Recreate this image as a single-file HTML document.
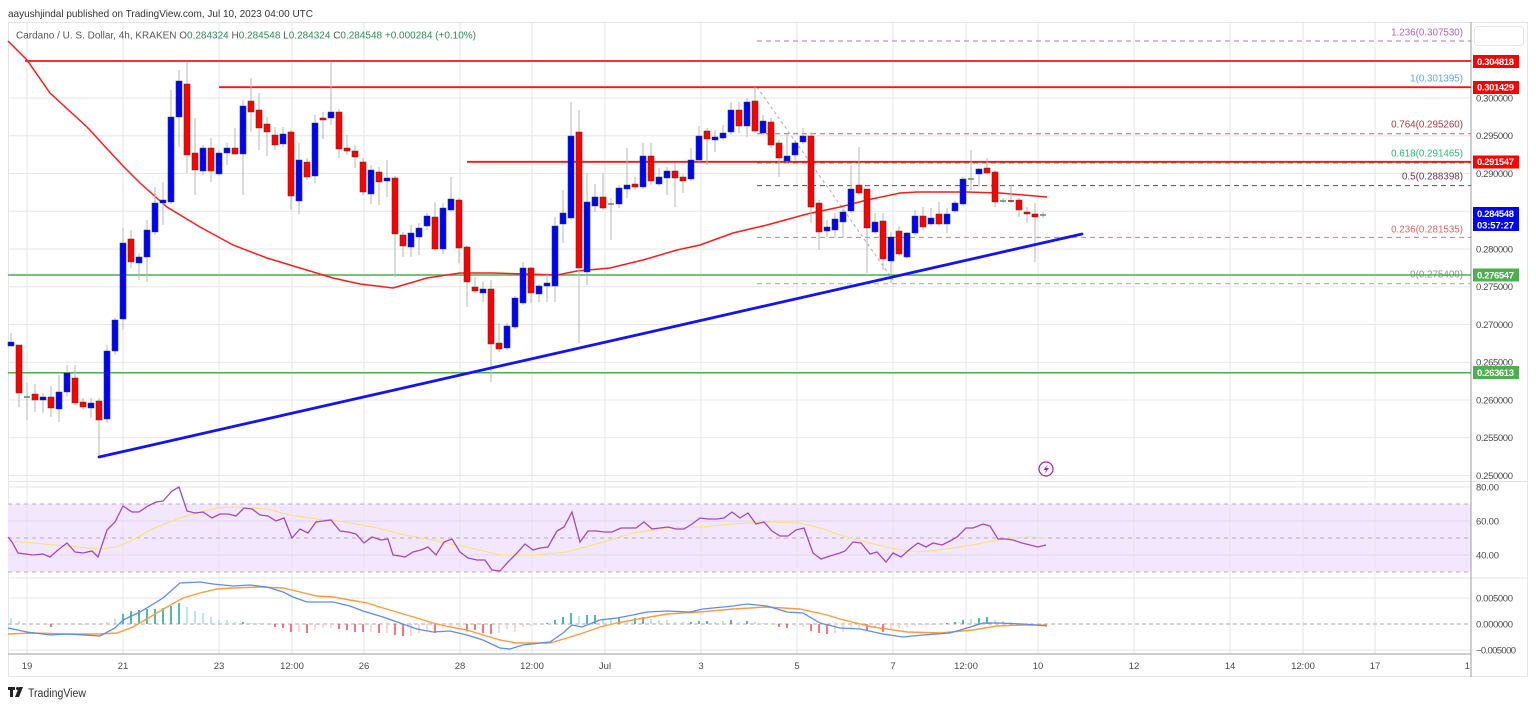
<!DOCTYPE html>
<html><head><meta charset="utf-8"><style>
html,body{margin:0;padding:0;background:#fff;width:1536px;height:707px;overflow:hidden}
svg{display:block;font-family:"Liberation Sans",Arial,sans-serif}
</style></head><body>
<svg width="1536" height="707" viewBox="0 0 1536 707" xmlns="http://www.w3.org/2000/svg">
<rect width="1536" height="707" fill="#fff"/>
<text x="8" y="17" font-size="10.5" fill="#333" textLength="305" lengthAdjust="spacingAndGlyphs">aayushjindal published on TradingView.com, Jul 10, 2023 04:00 UTC</text>
<rect x="8.5" y="22.5" width="1519" height="654" fill="none" stroke="#e3e5ea"/>
<!-- RSI band -->
<rect x="8" y="504" width="1463" height="68" fill="#f3e7fd"/>
<!-- grid -->
<g stroke="#e6e6e6" stroke-width="1">
<path d="M8 98H1471M8 135.75H1471M8 173.5H1471M8 211.25H1471M8 249H1471M8 286.75H1471M8 324.5H1471M8 362.25H1471M8 400H1471M8 437.75H1471M8 475.5H1471M8 487H1471M8 598H1471M8 650H1471"/>
<path d="M27 22V654M123 22V654M219 22V654M292 22V654M364 22V654M460 22V654M532 22V654M605 22V654M701 22V654M797 22V654M893 22V654M966 22V654M1038 22V654M1134 22V654M1230 22V654M1303 22V654M1375 22V654"/>
</g>
<path d="M8 521H1471M8 555H1471" stroke="#e2d6ee"/>
<path d="M8 481.5H1528M8 578H1528" stroke="#e0e3eb"/>
<path d="M8 504H1471M8 538H1471M8 572H1471" stroke="#b6afbf" stroke-dasharray="4,4"/>
<path d="M8 624H1471" stroke="#a9a9a9" stroke-dasharray="4,3"/>
<path d="M8 654H1471" stroke="#9a9ca3"/>
<path d="M1471 22V677" stroke="#9a9ca3"/>

<!-- legend -->
<text x="16" y="38.5" font-size="10" fill="#555" textLength="460" lengthAdjust="spacingAndGlyphs">Cardano / U. S. Dollar, 4h, KRAKEN  <tspan fill="#555">O</tspan><tspan fill="#2e8b57">0.284324</tspan>  <tspan fill="#555">H</tspan><tspan fill="#2e8b57">0.284548</tspan>  <tspan fill="#555">L</tspan><tspan fill="#2e8b57">0.284324</tspan>  <tspan fill="#555">C</tspan><tspan fill="#2e8b57">0.284548</tspan>  <tspan fill="#2e8b57">+0.000284 (+0.10%)</tspan></text>

<!-- fib dashed levels -->
<g stroke-width="1" stroke-dasharray="5,4" fill="none">
<path d="M757 41H1471" stroke="#b66ad8"/>
<path d="M757 87.5H1471" stroke="#64b5f6"/>
<path d="M757 133.8H1471" stroke="#e0535b"/>
<path d="M757 163H1471" stroke="#2fb36a"/>
<path d="M757 185.6H1471" stroke="#7a3d5e"/>
<path d="M757 237.4H1471" stroke="#ee6e73"/>
<path d="M757 283.7H1471" stroke="#a8a8a8"/>
</g>
<path d="M757 87L893 280" stroke="#aaa" stroke-dasharray="3,3" fill="none"/>
<g font-size="9.8" text-anchor="end">
<text x="1463" y="35.5" fill="#b15ccf">1.236(0.307530)</text>
<text x="1463" y="81.5" fill="#5aa8dc">1(0.301395)</text>
<text x="1463" y="127.5" fill="#b8323f">0.764(0.295260)</text>
<text x="1463" y="156.5" fill="#27b776">0.618(0.291465)</text>
<text x="1463" y="179.5" fill="#6e3656">0.5(0.288398)</text>
<text x="1463" y="232.5" fill="#e26468">0.236(0.281535)</text>
<text x="1463" y="277.5" fill="#8c8c8c">0(0.275400)</text>
</g>

<!-- horizontal levels -->
<path d="M25 61H1471M219 87.2H1471M467 161.8H1471" stroke="#ff1010" stroke-width="1.8" fill="none"/>
<path d="M8 275H1471M8 372.7H1471" stroke="#4caf50" stroke-width="1.5" fill="none"/>

<!-- EMA -->
<polyline fill="none" stroke="#ff1a1a" stroke-width="1.5" points="8,41 27,60 50,93 87,127 123,166 140,183 167,207 200,227 233,245 267,258 300,268 333,278 360,284 393,288 427,278 460,273 493,273 527,274 557,275 577,271 610,268 643,260 677,250 700,245 733,233 767,225 807,214 840,207 867,200 900,193 917,192 967,192 1000,193 1047,197"/>

<!-- wicks -->
<path fill="none" stroke="#b5b5b5" stroke-width="1" d="M11 333V347M19 345V407M27 383V420M35 384V412M43 393V413M51 386V417M59 375V422M67 365V397M75 365V405M83 398V410M91 398V418M99 398V457M107 345V423M115 318V355M123 228V330M131 230V268M139 253V280M147 220V282M155 187V235M163 182V225M171 90V204M179 70V147M187 62V173M195 118V195M203 145V175M211 138V182M219 150V176M227 143V165M235 128V155M243 100V195M251 78V132M259 93V150M267 117V156M275 127V150M283 127V147M291 130V210M299 143V214M307 158V180M315 115V183M323 112V139M331 62V125M339 109V158M347 135V155M355 145V168M363 158V195M371 165V204M379 167V205M387 160V197M395 176V277M403 232V257M411 225V257M419 223V255M427 213V230M435 202V250M443 203V254M451 177V212M459 198V263M467 245V307M475 277V293M483 282V302M491 280V382M499 323V352M507 323V350M515 296V329M523 262V305M531 267V303M539 284V302M547 273V302M555 217V302M563 190V243M571 102V220M579 110V343M587 173V285M595 184V212M603 173V210M611 198V240M619 185V208M627 148V198M635 177V190M643 143V189M651 143V185M659 168V186M667 167V195M675 163V207M683 174V193M691 148V181M699 126V162M707 128V165M715 130V152M723 125V140M731 102V135M739 102V133M747 98V137M755 87V133M763 115V135M771 118V148M779 140V177M787 133V163M795 140V160M803 128V144M811 132V223M819 200V250M827 220V237M835 213V238M843 208V238M851 165V213M859 147V195M867 189V273M875 213V234M883 213V270M891 232V283M899 226V256M907 232V258M915 210V235M923 207V230M931 208V226M939 202V226M947 208V233M955 201V213M963 177V206M971 150V190M979 168V187M987 158V175M995 170V207M1003 198V203M1011 185V203M1019 198V217M1027 207V223M1035 203V262M1043 212V218"/>

<!-- blue bodies -->
<path fill="#0000ff" stroke="#2d4a35" stroke-width="0.6" d="M8 342h6v4h-6zM40 397h6v3h-6zM56 392h6v17h-6zM64 373h6v19h-6zM88 403h6v5h-6zM104 351h6v68h-6zM112 320h6v31h-6zM120 243h6v76h-6zM136 257h6v6h-6zM144 230h6v27h-6zM152 203h6v29h-6zM160 200h6v3h-6zM168 117h6v85h-6zM176 81h6v36h-6zM200 148h6v23h-6zM216 153h6v21h-6zM224 148h6v5h-6zM240 106h6v48h-6zM280 134h6v10h-6zM296 160h6v41h-6zM312 123h6v53h-6zM328 112h6v6h-6zM368 170h6v24h-6zM384 178h6v3h-6zM408 233h6v14h-6zM416 228h6v9h-6zM424 216h6v10h-6zM440 208h6v41h-6zM448 199h6v11h-6zM480 289h6v4h-6zM504 326h6v22h-6zM512 298h6v29h-6zM520 268h6v35h-6zM536 286h6v8h-6zM544 283h6v3h-6zM552 226h6v60h-6zM560 213h6v11h-6zM568 136h6v82h-6zM584 202h6v70h-6zM592 197h6v9h-6zM616 188h6v16h-6zM624 185h6v4h-6zM640 156h6v31h-6zM656 177h6v7h-6zM664 171h6v7h-6zM688 160h6v19h-6zM696 136h6v24h-6zM712 137h6v3h-6zM720 133h6v5h-6zM728 110h6v22h-6zM744 102h6v24h-6zM760 121h6v12h-6zM784 156h6v5h-6zM792 143h6v12h-6zM800 136h6v6h-6zM824 227h6v4h-6zM832 219h6v11h-6zM840 212h6v10h-6zM848 189h6v22h-6zM872 222h6v10h-6zM888 237h6v24h-6zM904 233h6v24h-6zM912 216h6v17h-6zM928 218h6v6h-6zM944 214h6v10h-6zM952 203h6v8h-6zM960 179h6v25h-6zM976 169h6v5h-6z"/>
<!-- red bodies -->
<path fill="#ff0000" stroke="#4a3a2a" stroke-width="0.6" d="M16 345h6v48h-6zM32 394h6v6h-6zM48 397h6v11h-6zM72 378h6v25h-6zM80 402h6v5h-6zM96 401h6v19h-6zM128 239h6v23h-6zM184 84h6v71h-6zM192 153h6v17h-6zM208 148h6v23h-6zM232 148h6v6h-6zM248 101h6v11h-6zM256 110h6v18h-6zM264 124h6v8h-6zM272 135h6v10h-6zM288 132h6v64h-6zM304 162h6v15h-6zM320 118h6v2h-6zM336 112h6v37h-6zM344 148h6v3h-6zM352 151h6v6h-6zM360 162h6v30h-6zM376 172h6v10h-6zM392 178h6v56h-6zM400 235h6v11h-6zM432 217h6v32h-6zM456 200h6v48h-6zM464 247h6v35h-6zM472 287h6v4h-6zM488 289h6v55h-6zM496 343h6v6h-6zM528 268h6v25h-6zM576 132h6v136h-6zM600 197h6v11h-6zM632 184h6v3h-6zM648 156h6v25h-6zM672 171h6v7h-6zM680 177h6v4h-6zM704 131h6v8h-6zM736 110h6v16h-6zM752 101h6v30h-6zM768 122h6v23h-6zM776 143h6v15h-6zM808 136h6v71h-6zM816 203h6v29h-6zM856 185h6v8h-6zM864 189h6v39h-6zM880 221h6v38h-6zM896 231h6v23h-6zM920 216h6v11h-6zM936 214h6v10h-6zM984 168h6v5h-6zM992 172h6v30h-6zM1016 200h6v10h-6zM1024 212h6v2h-6zM1032 214h6v3h-6z"/>
<!-- dojis -->
<path stroke-width="1.6" fill="none" stroke="#5d8a6a" d="M24 397h6M608 204h6M968 179h6M1000 201h6M1040 215h6"/>
<path stroke-width="1.6" fill="none" stroke="#8a2a2a" d="M1008 201h6"/>

<!-- trend line -->
<path d="M99 457L1082 234" stroke="#1414f0" stroke-width="2.8" fill="none" stroke-linecap="round"/>

<!-- lightning icon -->
<circle cx="1046" cy="469" r="7" fill="#fff" stroke="#9c27b0" stroke-width="1.2"/>
<path d="M1048 464L1043.5 470H1046.5L1044 474.5L1049 468H1046Z" fill="#9c27b0"/>

<!-- RSI -->
<polyline fill="none" stroke="#fbe26a" stroke-width="1.1" points="8,541 33,543 67,546 100,549 117,547 133,540 150,530 177,519 200,512 217,508 233,507 267,509 290,515 317,519 333,520 350,523 377,528 400,534 433,540 450,544 467,547 500,555 533,555 567,552 600,543 633,533 667,528 700,527 733,524 767,522 800,523 820,528 840,535 857,540 890,548 918,552 940,550 973,545 997,540 1013,538 1027,537 1046,538"/>
<polyline fill="none" stroke="#a447c0" stroke-width="1.3" points="8,537 12,542 18,553 33,555 43,554 50,557 58,550 67,543 75,552 83,553 92,551 98,557 107,530 115,522 123,506 132,512 139,512 148,506 156,502 163,501 172,491 179,487 187,511 195,513 203,512 212,518 220,514 228,514 236,516 244,508 252,509 260,515 268,516 276,521 284,518 292,538 300,529 308,533 316,522 323,521 331,520 340,531 348,532 356,534 364,543 372,537 381,540 388,539 393,555 400,556 405,557 413,552 421,550 428,547 436,555 444,542 452,539 460,552 468,558 477,560 485,560 492,570 500,571 508,562 517,553 525,544 533,550 540,548 548,547 557,531 564,527 572,512 580,542 588,531 597,531 604,532 612,532 621,528 628,528 636,528 644,522 652,529 660,528 668,527 676,529 684,529 692,524 700,518 708,519 717,519 724,518 732,512 740,518 748,513 756,524 764,522 772,531 780,536 788,536 796,530 804,528 813,553 821,559 830,556 840,553 845,551 853,542 861,543 870,554 877,552 886,562 893,553 901,557 910,549 918,543 926,547 933,543 942,545 950,541 957,537 966,528 973,528 983,524 990,526 998,539 1006,539 1013,540 1022,543 1030,545 1038,547 1046,545"/>

<!-- MACD histogram -->
<path fill="none" stroke-width="1.6" stroke="#22ab94" d="M123 624V614M131 624V611M139 624V610M147 624V609M155 624V609M163 624V608M171 624V606M179 624V603M243 624V622M547 624V623M555 624V620M563 624V617M571 624V613M587 624V615M595 624V615M619 624V618M635 624V618M643 624V617M691 624V622M699 624V621M707 624V621M731 624V620M747 624V621M947 624V623M955 624V622M963 624V620M979 624V618M987 624V617"/>
<path fill="none" stroke-width="1.6" stroke="#acdfd6" d="M11 624V618M19 624V621M107 624V622M115 624V619M187 624V607M195 624V611M203 624V613M211 624V617M219 624V620M227 624V620M235 624V622M251 624V623M259 624V623M579 624V616M603 624V618M611 624V619M627 624V621M651 624V619M659 624V620M667 624V620M675 624V622M683 624V622M715 624V622M723 624V621M739 624V622M755 624V622M763 624V623M971 624V619M995 624V620M1003 624V621M1011 624V622M1019 624V623M1027 624V623"/>
<path fill="none" stroke-width="1.6" stroke="#f7525f" d="M51 624V627M275 624V627M283 624V628M291 624V632M307 624V633M339 624V629M347 624V630M355 624V632M363 624V632M379 624V633M395 624V635M403 624V636M435 624V633M467 624V631M475 624V630M483 624V633M491 624V634M779 624V627M787 624V628M811 624V631M819 624V633M827 624V634M867 624V631M883 624V632"/>
<path fill="none" stroke-width="1.6" stroke="#fccbcd" d="M83 624V625M99 624V625M299 624V632M315 624V630M323 624V628M331 624V628M371 624V632M387 624V633M411 624V636M419 624V633M427 624V630M443 624V628M451 624V627M459 624V627M499 624V633M507 624V629M515 624V632M523 624V627M531 624V626M795 624V626M803 624V627M835 624V633M843 624V632M851 624V628M859 624V628M875 624V628M891 624V629M899 624V628M907 624V627M915 624V626M923 624V625M931 624V625"/>
<polyline fill="none" stroke="#ff9a3c" stroke-width="1.4" points="8,634 33,633 67,634 100,634 117,633 133,627 150,617 167,607 183,598 200,593 217,589 233,588 260,587 283,588 300,592 317,596 333,597 350,600 367,603 383,608 400,613 417,618 433,623 450,627 467,630 483,635 500,640 517,643 533,643 550,643 567,638 583,633 600,627 617,623 633,620 650,617 667,614 700,612 733,609 750,608 767,607 800,609 827,615 840,619 873,627 907,632 940,633 973,630 997,626 1023,625 1047,625"/>
<polyline fill="none" stroke="#5b8def" stroke-width="1.3" points="8,628 27,632 50,635 67,634 100,636 115,628 123,620 140,612 163,598 180,583 200,582 213,584 233,586 250,585 267,587 283,592 293,597 307,602 333,602 350,606 363,611 383,617 400,623 417,629 433,632 450,631 467,635 483,640 500,648 510,649 523,645 540,643 550,642 563,633 572,625 582,627 600,620 617,618 633,615 647,612 667,611 690,612 703,609 733,606 747,604 767,606 787,612 803,613 820,623 840,628 860,629 883,634 903,637 923,635 950,633 967,628 983,623 997,623 1023,624 1047,626"/>

<!-- right axis labels -->
<g font-size="9.5" fill="#4a4a4a">
<text x="1476" y="101.5" textLength="37">0.300000</text>
<text x="1476" y="139.2" textLength="37">0.295000</text>
<text x="1476" y="177" textLength="37">0.290000</text>
<text x="1476" y="252.5" textLength="37">0.280000</text>
<text x="1476" y="290.2" textLength="37">0.275000</text>
<text x="1476" y="328" textLength="37">0.270000</text>
<text x="1476" y="365.7" textLength="37">0.265000</text>
<text x="1476" y="403.5" textLength="37">0.260000</text>
<text x="1476" y="441.2" textLength="37">0.255000</text>
<text x="1476" y="479" textLength="37">0.250000</text>
<text x="1476" y="490.5" textLength="23">80.00</text>
<text x="1476" y="524.5" textLength="23">60.00</text>
<text x="1476" y="558.5" textLength="23">40.00</text>
<text x="1476" y="601.5" textLength="37">0.005000</text>
<text x="1476" y="627.5" textLength="37">0.000000</text>
<text x="1476" y="653.5" textLength="40">−0.005000</text>
</g>
<rect x="1474.5" y="26.5" width="49" height="19" rx="3" fill="#fff" stroke="#e3e5ea"/>
<g font-size="9.5" fill="#fff" font-weight="bold">
<rect x="1473" y="55" width="46" height="13" fill="#ff0000"/>
<text x="1477" y="64.8" textLength="37">0.304818</text>
<rect x="1473" y="81" width="46" height="13" fill="#ff0000"/>
<text x="1477" y="90.6" textLength="37">0.301429</text>
<rect x="1473" y="155.5" width="46" height="13" fill="#ff0000"/>
<text x="1477" y="165.2" textLength="37">0.291547</text>
<rect x="1473" y="207" width="46" height="24" fill="#0000ff"/>
<text x="1477" y="217" textLength="37">0.284548</text>
<text x="1477" y="228.5" textLength="37">03:57:27</text>
<rect x="1473" y="268.5" width="46" height="13" fill="#4caf50"/>
<text x="1477" y="278.3" textLength="37">0.276547</text>
<rect x="1473" y="366" width="46" height="13" fill="#4caf50"/>
<text x="1477" y="375.8" textLength="37">0.263613</text>
</g>

<!-- date labels -->
<g font-size="9.5" fill="#4a4a4a" text-anchor="middle">
<text x="27" y="669">19</text>
<text x="123" y="669">21</text>
<text x="219" y="669">23</text>
<text x="292" y="669">12:00</text>
<text x="364" y="669">26</text>
<text x="460" y="669">28</text>
<text x="532" y="669">12:00</text>
<text x="605" y="669">Jul</text>
<text x="701" y="669">3</text>
<text x="797" y="669">5</text>
<text x="893" y="669">7</text>
<text x="966" y="669">12:00</text>
<text x="1038" y="669">10</text>
<text x="1134" y="669">12</text>
<text x="1230" y="669">14</text>
<text x="1303" y="669">12:00</text>
<text x="1375" y="669">17</text>
<text x="1470" y="669" text-anchor="end">1</text>
</g>

<!-- TradingView logo -->
<g fill="#222">
<path d="M8 687h7v3h-2v7h-3v-7h-2z"/>
<circle cx="17.5" cy="688.5" r="1.5"/>
<path d="M19 687h4l-4 10h-4z"/>
</g>
<text x="28" y="697" font-size="11.5" fill="#333" textLength="58" lengthAdjust="spacingAndGlyphs">TradingView</text>
</svg>
</body></html>
